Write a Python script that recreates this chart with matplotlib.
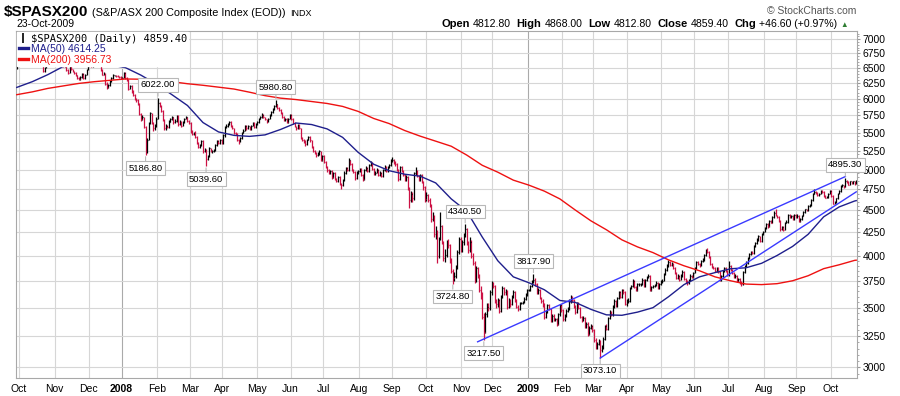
import numpy as np
import pandas as pd
import matplotlib
matplotlib.use("Agg")
import matplotlib.pyplot as plt
from matplotlib.lines import Line2D
from matplotlib.ticker import NullFormatter

plt.rcParams['font.family'] = ['Liberation Sans', 'DejaVu Sans']

# daily bars, 27-Sep-2007 .. 23-Oct-2009, one row per month
cl = [
    6540, 6567,
    6610, 6640, 6650, 6680, 6700, 6690, 6720, 6740, 6760, 6745, 6730, 6680, 6660, 6640, 6600, 6450, 6510, 6560, 6580, 6620, 6700, 6740, 6779,
    6750, 6700, 6620, 6640, 6600, 6530, 6560, 6470, 6420, 6520, 6480, 6440, 6420, 6380, 6330, 6320, 6350, 6400, 6330, 6390, 6470, 6540,
    6560, 6530, 6550, 6580, 6570, 6560, 6545, 6470, 6390, 6410, 6240, 6180, 6220, 6280, 6330, 6380, 6380, 6370, 6360, 6350, 6340,
    6340, 6420, 6330, 6300, 6160, 6200, 6120, 6060, 6000, 5980, 5920, 5770, 5700, 5720, 5580, 5230, 5400, 5640, 5780, 5640, 5560, 5600, 5700,
    5930, 5900, 5820, 5690, 5560, 5600, 5580, 5660, 5690, 5720, 5650, 5670, 5740, 5620, 5660, 5600, 5650, 5700, 5720, 5670, 5640,
    5520, 5480, 5500, 5440, 5360, 5300, 5330, 5380, 5240, 5260, 5140, 5170, 5280, 5240, 5240, 5260, 5330, 5380, 5350, 5400, 5360,
    5460, 5580, 5600, 5620, 5650, 5600, 5560, 5500, 5480, 5400, 5380, 5420, 5500, 5530, 5600, 5560, 5590, 5550, 5600, 5640, 5580, 5620,
    5650, 5700, 5720, 5760, 5720, 5690, 5660, 5700, 5760, 5800, 5850, 5890, 5920, 5860, 5830, 5790, 5730, 5680, 5700, 5650, 5700, 5760,
    5700, 5640, 5590, 5560, 5610, 5560, 5430, 5400, 5380, 5340, 5400, 5440, 5390, 5300, 5250, 5220, 5190, 5210, 5240, 5120, 5180,
    5100, 5030, 4990, 4960, 4980, 4900, 4950, 4880, 4860, 4900, 4820, 4800, 4870, 4960, 5020, 4990, 5120, 5070, 4990, 4970, 4890, 4960, 4980,
    5010, 4930, 4880, 4990, 5020, 4980, 5060, 5090, 5010, 4950, 4960, 5000, 4930, 4960, 4920, 4990, 5040, 4980, 5030, 5060, 5120,
    5120, 5090, 5070, 5000, 4880, 5030, 4990, 4930, 4870, 4910, 4760, 4620, 4700, 4640, 4950, 4990, 4920, 4870, 4930, 4840, 4780, 4630,
    4680, 4620, 4560, 4400, 4440, 4230, 4270, 4000, 4180, 4320, 4150, 3980, 4010, 4140, 4120, 3950, 3850, 3780, 3800, 3890, 4040, 4180, 4070,
    4150, 4220, 4290, 4140, 4060, 4150, 4000, 3930, 3760, 3880, 3800, 3660, 3620, 3420, 3290, 3440, 3510, 3500, 3640, 3720,
    3700, 3560, 3530, 3570, 3470, 3600, 3680, 3640, 3650, 3510, 3570, 3530, 3600, 3640, 3570, 3510, 3490, 3540, 3540, 3550, 3580, 3620, 3660,
    3660, 3700, 3740, 3760, 3720, 3640, 3660, 3590, 3560, 3530, 3420, 3460, 3520, 3490, 3380, 3430, 3390, 3400, 3360, 3440, 3520, 3480,
    3400, 3430, 3470, 3490, 3560, 3600, 3570, 3510, 3460, 3540, 3500, 3420, 3390, 3410, 3330, 3360, 3270, 3320, 3340, 3300,
    3220, 3160, 3190, 3210, 3140, 3160, 3230, 3340, 3310, 3410, 3460, 3440, 3510, 3560, 3520, 3590, 3640, 3600, 3660, 3640, 3530, 3560,
    3560, 3680, 3700, 3750, 3690, 3660, 3720, 3720, 3720, 3760, 3700, 3760, 3790, 3800, 3660, 3690, 3700, 3710, 3730, 3680, 3720, 3740,
    3750, 3820, 3860, 3900, 3940, 3910, 3920, 3880, 3830, 3780, 3800, 3760, 3800, 3840, 3770, 3740, 3730, 3760, 3800, 3790, 3830,
    3880, 3940, 3920, 3900, 3950, 3960, 4010, 4050, 4040, 3990, 3920, 3890, 3880, 3850, 3880, 3840, 3760, 3800, 3850, 3880, 3850, 3810,
    3900, 3860, 3830, 3790, 3800, 3750, 3770, 3730, 3720, 3840, 3900, 3930, 3980, 4020, 4040, 4030, 4100, 4140, 4170, 4210, 4160, 4230, 4260,
    4300, 4340, 4320, 4380, 4360, 4420, 4470, 4440, 4420, 4380, 4290, 4310, 4280, 4360, 4370, 4450, 4420, 4440, 4400, 4450, 4420,
    4440, 4380, 4400, 4440, 4480, 4510, 4500, 4550, 4560, 4620, 4700, 4720, 4710, 4680, 4700, 4730, 4720, 4670, 4650, 4660, 4700, 4730,
    4670, 4580, 4600, 4640, 4700, 4730, 4790, 4800, 4780, 4860, 4840, 4810, 4850, 4830, 4850, 4812.8, 4859.4,
]
hi = [
    6560, 6590,
    6625, 6660, 6670, 6695, 6720, 6715, 6735, 6760, 6780, 6775, 6760, 6740, 6700, 6675, 6655, 6610, 6520, 6575, 6600, 6635, 6715, 6760, 6800,
    6828.7, 6770, 6710, 6660, 6650, 6610, 6580, 6570, 6490, 6535, 6530, 6490, 6455, 6430, 6390, 6345, 6365, 6415, 6410, 6400, 6485, 6560,
    6580, 6570, 6565, 6595, 6595, 6585, 6570, 6555, 6480, 6430, 6420, 6260, 6235, 6295, 6345, 6395, 6390, 6390, 6380, 6370, 6365,
    6355, 6435, 6430, 6345, 6310, 6225, 6215, 6135, 6075, 6020, 5995, 5930, 5790, 5760, 5730, 5590, 5420, 5660, 5800, 5790, 5660, 5625, 5720,
    6022.0, 5950, 5910, 5830, 5700, 5620, 5615, 5680, 5710, 5745, 5730, 5690, 5760, 5750, 5680, 5670, 5665, 5715, 5740, 5730, 5685,
    5650, 5540, 5515, 5520, 5450, 5375, 5345, 5400, 5390, 5280, 5270, 5190, 5300, 5290, 5255, 5275, 5345, 5400, 5395, 5415, 5410,
    5475, 5600, 5620, 5640, 5670, 5665, 5615, 5570, 5510, 5490, 5415, 5440, 5515, 5550, 5615, 5610, 5605, 5600, 5615, 5655, 5650, 5635,
    5665, 5715, 5735, 5780, 5770, 5730, 5700, 5715, 5775, 5815, 5865, 5905, 5980.8, 5925, 5870, 5840, 5800, 5740, 5715, 5710, 5715, 5775,
    5775, 5715, 5655, 5600, 5625, 5620, 5570, 5445, 5415, 5395, 5415, 5455, 5450, 5400, 5310, 5265, 5235, 5225, 5255, 5250, 5195,
    5190, 5115, 5045, 5005, 4995, 4995, 4965, 4965, 4895, 4920, 4915, 4835, 4885, 4975, 5035, 5035, 5145, 5130, 5085, 5005, 4985, 4975, 5000,
    5025, 5020, 4945, 5005, 5040, 5030, 5075, 5105, 5100, 5020, 4975, 5015, 5010, 4975, 4970, 5005, 5055, 5050, 5045, 5075, 5135,
    5165, 5135, 5105, 5080, 5010, 5045, 5040, 5000, 4945, 4925, 4920, 4775, 4725, 4720, 4965, 5030, 5000, 4935, 4945, 4940, 4855, 4790,
    4720, 4700, 4640, 4580, 4480, 4450, 4320, 4280, 4200, 4480, 4330, 4160, 4070, 4170, 4180, 4130, 3980, 3870, 3840, 3910, 4060, 4200, 4200,
    4170, 4240, 4340.5, 4300, 4160, 4200, 4170, 4030, 3950, 3900, 3890, 3820, 3700, 3640, 3450, 3460, 3540, 3540, 3660, 3750,
    3740, 3710, 3580, 3590, 3580, 3620, 3700, 3690, 3670, 3660, 3590, 3580, 3615, 3660, 3650, 3580, 3520, 3555, 3550, 3560, 3595, 3635, 3675,
    3670, 3715, 3760, 3817.9, 3780, 3730, 3680, 3670, 3600, 3575, 3540, 3475, 3535, 3530, 3500, 3445, 3440, 3410, 3410, 3455, 3535, 3530,
    3490, 3440, 3485, 3505, 3575, 3615, 3610, 3580, 3520, 3555, 3550, 3510, 3430, 3425, 3420, 3375, 3370, 3335, 3355, 3350,
    3310, 3235, 3200, 3225, 3220, 3175, 3245, 3350, 3355, 3420, 3475, 3470, 3520, 3575, 3570, 3600, 3655, 3650, 3675, 3670, 3650, 3575,
    3585, 3690, 3715, 3765, 3755, 3700, 3730, 3735, 3735, 3775, 3770, 3770, 3800, 3815, 3805, 3705, 3715, 3725, 3745, 3740, 3730, 3755,
    3765, 3830, 3875, 3915, 3960, 3950, 3935, 3930, 3890, 3840, 3815, 3810, 3815, 3855, 3850, 3780, 3755, 3770, 3815, 3810, 3840,
    3890, 3950, 3950, 3930, 3960, 3975, 4020, 4070, 4085, 4050, 3995, 3930, 3900, 3890, 3890, 3885, 3845, 3810, 3860, 3890, 3890, 3860,
    3950, 3910, 3870, 3835, 3815, 3810, 3780, 3780, 3745, 3850, 3910, 3945, 3990, 4035, 4055, 4050, 4110, 4150, 4185, 4220, 4215, 4240, 4270,
    4310, 4355, 4350, 4390, 4390, 4430, 4490, 4516, 4450, 4430, 4390, 4320, 4320, 4370, 4385, 4460, 4460, 4450, 4445, 4460, 4460,
    4455, 4450, 4410, 4450, 4490, 4520, 4520, 4560, 4570, 4630, 4710, 4754, 4730, 4715, 4710, 4740, 4740, 4725, 4680, 4670, 4710, 4740,
    4740, 4680, 4610, 4650, 4710, 4740, 4800, 4820, 4810, 4895.3, 4870, 4850, 4860, 4860, 4860, 4860, 4868,
]
lo = [
    6490, 6525,
    6560, 6595, 6625, 6640, 6665, 6670, 6680, 6705, 6730, 6730, 6715, 6670, 6645, 6625, 6585, 6430, 6440, 6500, 6545, 6570, 6610, 6690, 6725,
    6735, 6690, 6600, 6610, 6585, 6510, 6520, 6455, 6400, 6410, 6465, 6425, 6400, 6365, 6315, 6295, 6305, 6340, 6310, 6320, 6380, 6460,
    6525, 6515, 6520, 6540, 6555, 6545, 6535, 6455, 6375, 6375, 6220, 6150, 6165, 6210, 6270, 6320, 6365, 6355, 6345, 6335, 6320,
    6330, 6330, 6315, 6280, 6140, 6150, 6100, 6040, 5980, 5955, 5900, 5750, 5670, 5680, 5560, 5186.8, 5220, 5390, 5620, 5620, 5530, 5540, 5580,
    5690, 5880, 5800, 5670, 5540, 5540, 5560, 5570, 5650, 5680, 5630, 5640, 5660, 5600, 5605, 5585, 5590, 5640, 5690, 5650, 5620,
    5500, 5460, 5465, 5420, 5340, 5280, 5290, 5320, 5220, 5225, 5039.6, 5120, 5160, 5225, 5220, 5230, 5250, 5320, 5335, 5340, 5345,
    5345, 5440, 5570, 5585, 5605, 5585, 5545, 5480, 5460, 5385, 5340, 5365, 5410, 5490, 5520, 5540, 5550, 5535, 5540, 5590, 5565, 5570,
    5605, 5635, 5690, 5710, 5705, 5675, 5645, 5650, 5690, 5745, 5790, 5835, 5875, 5845, 5815, 5775, 5715, 5665, 5670, 5635, 5640, 5690,
    5685, 5625, 5575, 5540, 5545, 5545, 5415, 5380, 5360, 5320, 5330, 5390, 5375, 5285, 5230, 5200, 5170, 5175, 5195, 5105, 5110,
    5085, 5015, 4970, 4940, 4945, 4880, 4890, 4865, 4840, 4845, 4805, 4760, 4790, 4860, 4945, 4975, 4980, 5055, 4975, 4950, 4870, 4880, 4945,
    4965, 4915, 4860, 4870, 4975, 4965, 4970, 5045, 4995, 4935, 4935, 4950, 4915, 4920, 4905, 4910, 4980, 4965, 4970, 5020, 5050,
    5100, 5070, 5050, 4985, 4860, 4870, 4970, 4915, 4850, 4860, 4745, 4530, 4600, 4600, 4620, 4935, 4905, 4850, 4855, 4825, 4740, 4600,
    4610, 4600, 4540, 4370, 4380, 4200, 4180, 3930, 3980, 4170, 4130, 3950, 3940, 3990, 4080, 3930, 3830, 3724.8, 3750, 3780, 3870, 4020, 4040,
    4040, 4120, 4200, 4120, 4030, 4040, 3980, 3910, 3730, 3740, 3780, 3640, 3580, 3400, 3217.5, 3280, 3420, 3470, 3480, 3620,
    3680, 3540, 3500, 3510, 3450, 3460, 3590, 3620, 3620, 3490, 3500, 3510, 3520, 3590, 3555, 3495, 3470, 3480, 3530, 3535, 3540, 3570, 3610,
    3650, 3650, 3690, 3730, 3700, 3630, 3630, 3575, 3540, 3510, 3400, 3405, 3450, 3475, 3370, 3370, 3380, 3380, 3340, 3350, 3430, 3465,
    3385, 3385, 3420, 3460, 3480, 3545, 3555, 3500, 3445, 3450, 3490, 3410, 3375, 3380, 3320, 3320, 3255, 3260, 3310, 3290,
    3205, 3145, 3150, 3180, 3073.1, 3120, 3150, 3220, 3300, 3300, 3400, 3430, 3430, 3500, 3505, 3510, 3580, 3590, 3590, 3625, 3520, 3515,
    3540, 3555, 3670, 3690, 3680, 3650, 3655, 3705, 3705, 3710, 3690, 3695, 3750, 3780, 3650, 3650, 3680, 3690, 3700, 3670, 3675, 3710,
    3730, 3745, 3810, 3850, 3890, 3900, 3900, 3870, 3820, 3770, 3770, 3750, 3755, 3790, 3760, 3730, 3715, 3720, 3750, 3775, 3780,
    3825, 3870, 3910, 3890, 3895, 3940, 3950, 4000, 4030, 3980, 3910, 3880, 3870, 3840, 3840, 3830, 3750, 3750, 3790, 3840, 3840, 3800,
    3800, 3850, 3820, 3780, 3780, 3740, 3740, 3720, 3700, 3710, 3830, 3890, 3920, 3970, 4010, 4020, 4020, 4090, 4130, 4160, 4150, 4150, 4220,
    4250, 4290, 4305, 4310, 4350, 4350, 4410, 4430, 4410, 4370, 4270, 4280, 4265, 4275, 4350, 4360, 4410, 4410, 4390, 4390, 4410,
    4410, 4370, 4370, 4390, 4430, 4470, 4490, 4490, 4540, 4550, 4610, 4690, 4700, 4670, 4670, 4690, 4710, 4660, 4640, 4640, 4650, 4690,
    4660, 4570, 4570, 4590, 4630, 4690, 4720, 4780, 4770, 4780, 4830, 4800, 4800, 4820, 4820, 4805, 4812.8,
]
last_open = 4812.80

# moving averages read every 10th bar (plus the last bar)
ma50 = [6181, 6273, 6388, 6525, 6570, 6590, 6553, 6505, 6380, 6233, 6066, 5899, 5645, 5510,
        5461, 5447, 5468, 5545, 5638, 5616, 5553, 5433, 5227, 5069, 4985, 4940, 4915, 4830,
        4635, 4490, 4200, 3951, 3790, 3733, 3666, 3566, 3548, 3485, 3436, 3432, 3460, 3500,
        3600, 3715, 3790, 3832, 3870, 3880, 3925, 4005, 4100, 4230, 4425, 4540, 4610, 4614.25]
ma200 = [6066, 6110, 6165, 6205, 6245, 6273, 6295, 6317, 6313, 6305, 6273, 6240, 6215, 6185,
         6155, 6105, 6051, 6012, 5990, 5960, 5930, 5885, 5810, 5705, 5630, 5530, 5450, 5380,
         5310, 5190, 5055, 4966, 4865, 4803, 4729, 4635, 4503, 4380, 4280, 4170, 4095, 4035,
         3960, 3900, 3850, 3790, 3752, 3720, 3715, 3724, 3752, 3801, 3871, 3910, 3955, 3956.73]

peaks = [6022.00, 5980.80, 4340.50, 3817.90, 4895.30]
troughs = [5186.80, 5039.60, 3724.80, 3217.50, 3073.10]

# channel lines: (dates, values)
upper_dates, upper_vals = ['2008-11-17', '2009-10-14'], [3205, 4910]
lower_dates, lower_vals = ['2009-03-06', '2009-10-23'], [3073.1, 4720]

y_ticks = list(range(3000, 7001, 250))
month_names = ['Jan', 'Feb', 'Mar', 'Apr', 'May', 'Jun', 'Jul', 'Aug', 'Sep', 'Oct', 'Nov', 'Dec']

cl = np.array(cl, float)
hi = np.array(hi, float)
lo = np.array(lo, float)
assert len(cl) == len(hi) == len(lo)
dates = pd.bdate_range('2007-09-27', periods=len(cl))
x = np.arange(len(cl))

navy = '#1f1f8c'
red = '#ee1111'
bar_red = '#cc1144'
blue = '#3a3aff'
grid_c = '#d6d6d6'

fig = plt.figure(figsize=(9, 3.96), dpi=100)
ax = fig.add_axes([16 / 900, 1 - 378 / 396, (857 - 16) / 900, (378 - 31) / 396])
ax.set_yscale('log')
ax.set_xlim(-0.5, len(cl) - 0.5)
ax.set_ylim(2919, 7150)

# month grid + labels
starts = [i for i in range(1, len(dates)) if dates[i].month != dates[i - 1].month]
xt, xl = [], []
for i in starts:
    d = dates[i]
    xt.append(i - 0.5)
    xl.append(str(d.year) if d.month == 1 else month_names[d.month - 1])
    ax.axvline(i - 0.5, color='#aaaaaa' if d.month == 1 else grid_c, lw=0.8, zorder=0)
ax.set_xticks(xt)
ax.set_xticklabels(xl)
for t in ax.get_xticklabels():
    if t.get_text().isdigit():
        t.set_fontweight('bold')
ax.tick_params(axis='x', length=0, labelsize=7.5, pad=4)

ax.set_yticks(y_ticks, labels=[str(v) for v in y_ticks])
ax.set_yticks([v for v in range(2950, 7150, 50) if v % 250], minor=True)
ax.yaxis.set_minor_formatter(NullFormatter())
ax.yaxis.tick_right()
ax.tick_params(axis='y', which='major', length=2.5, color='#999999', labelsize=7.5, pad=1.5)
ax.tick_params(axis='y', which='minor', length=1.2, color='#999999')
ax.yaxis.grid(True, which='major', color=grid_c, lw=0.8, zorder=0)
ax.set_axisbelow(True)
for s in ax.spines.values():
    s.set_color('#a8a8a8')
    s.set_linewidth(0.8)

# OHLC bars (red when close is below previous close)
prev = np.r_[cl[0], cl[:-1]]
colors = np.where(cl < prev, bar_red, 'black')
ax.vlines(x, lo, hi, colors=colors, lw=0.9, zorder=2)
ax.hlines(cl, x, x + 0.5, colors=colors, lw=0.9, zorder=2)

ma_x = np.r_[np.arange(0, len(cl) - 1, 10), len(cl) - 1]
ax.plot(ma_x, ma50, color=navy, lw=1.0, zorder=3)
ax.plot(ma_x, ma200, color=red, lw=1.0, zorder=3)

for dd, vv in [(upper_dates, upper_vals), (lower_dates, lower_vals)]:
    ix = [dates.get_loc(pd.Timestamp(d)) for d in dd]
    ax.plot(ix, vv, color=blue, lw=1.0, zorder=3)

box = dict(boxstyle='square,pad=0.25', fc='white', ec='#b8b8b8', lw=0.8)
arr = dict(arrowstyle='-', color='#b8b8b8', lw=0.8, shrinkA=0, shrinkB=1)
for v in peaks:
    i = int(np.argmin(np.abs(hi - v)))
    ax.annotate(f'{v:.2f}', (i, v), xytext=(0, 6), textcoords='offset points',
                ha='center', va='bottom', fontsize=6.8, bbox=box, arrowprops=arr, zorder=6)
for v in troughs:
    i = int(np.argmin(np.abs(lo - v)))
    ax.annotate(f'{v:.2f}', (i, v), xytext=(0, -6), textcoords='offset points',
                ha='center', va='top', fontsize=6.8, bbox=box, arrowprops=arr, zorder=6)

handles = [Line2D([], [], color='black', marker='|', ls='none', ms=7, mew=1.2),
           Line2D([], [], color=navy, lw=2.4),
           Line2D([], [], color=red, lw=2.4)]
labels = [rf'\$SPASX200 (Daily) {cl[-1]:.2f}', f'MA(50) {ma50[-1]:.2f}', f'MA(200) {ma200[-1]:.2f}']
leg = ax.legend(handles, labels, loc='upper left', bbox_to_anchor=(0, 1), borderaxespad=0.1,
                borderpad=0.15, handlelength=0.9, handletextpad=0.25, labelspacing=0.05,
                frameon=True, fancybox=False, framealpha=1, facecolor='white',
                edgecolor='white', fontsize=7.5, labelcolor=['black', navy, red])
leg.get_texts()[0].set_fontfamily('DejaVu Sans Mono')
leg.set_zorder(10)

# header
renderer = fig.canvas.get_renderer()


def chain(x0, y, pieces):
    xx = x0
    for s, gap, kw in pieces:
        t = fig.text(xx / 900, 1 - y / 396, s, va='baseline', **kw)
        xx = t.get_window_extent(renderer).x1 + gap


chain(4, 16, [(r'\$SPASX200', 4, dict(fontsize=11, fontweight='bold')),
              ('(S&P/ASX 200 Composite Index (EOD))', 4, dict(fontsize=7.8)),
              ('INDX', 0, dict(fontsize=6.5))])
fig.text(16 / 900, 1 - 27 / 396, dates[-1].strftime('%d-%b-%Y'), fontsize=7.5, va='baseline')

chg = cl[-1] - cl[-2]
pct = chg / cl[-2] * 100
bold = dict(fontsize=8, fontweight='bold')
norm = dict(fontsize=7.6)
chain(441, 27, [('Open', 3, bold), (f'{last_open:.2f}', 6, norm),
                ('High', 3, bold), (f'{hi[-1]:.2f}', 6, norm),
                ('Low', 3, bold), (f'{lo[-1]:.2f}', 6, norm),
                ('Close', 3, bold), (f'{cl[-1]:.2f}', 6, norm),
                ('Chg', 3, bold), (f'{chg:+.2f} ({pct:+.2f}%)', 3, norm),
                ('\u25b2', 0, dict(fontsize=5.5, color='#2e7d32'))])
fig.text(856 / 900, 1 - 14 / 396, '\u00a9 StockCharts.com', fontsize=7.5, color='#555555',
         ha='right', va='baseline')

fig.savefig('out.png', dpi=100, facecolor='white')
